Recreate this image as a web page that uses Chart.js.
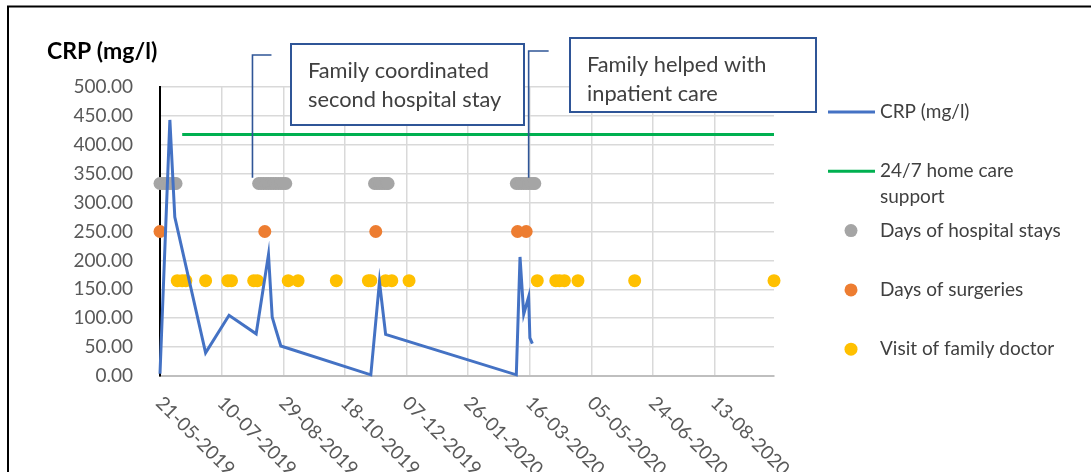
<!DOCTYPE html>
<html>
<head>
<meta charset="utf-8">
<script src="https://cdn.jsdelivr.net/npm/chart.js@4/dist/chart.umd.min.js"></script>
<style>
  html, body { margin: 0; padding: 0; background: #ffffff; }
  #wrap { width: 1091px; height: 472px; position: relative; }
</style>
</head>
<body>
<div id="wrap"><canvas id="chart" width="1091" height="472"></canvas></div>
<script>
// ---- data (dates as DD-MM-YYYY) ----
const baseDate = '21-05-2019';
const axisEndDate = '30-09-2020';
const xTickLabels = ['21-05-2019', '10-07-2019', '29-08-2019', '18-10-2019', '07-12-2019',
                     '26-01-2020', '16-03-2020', '05-05-2020', '24-06-2020', '13-08-2020'];

const crpDates = ['21-05-2019', '29-05-2019', '02-06-2019', '27-06-2019', '16-07-2019',
                  '07-08-2019', '17-08-2019', '20-08-2019', '23-08-2019', '27-08-2019',
                  '08-11-2019', '15-11-2019', '20-11-2019',
                  '05-03-2020', '08-03-2020', '11-03-2020', '15-03-2020', '16-03-2020', '18-03-2020'];
const crpValues = [4, 443, 275, 40, 105,
                   73, 210, 102, 80, 52,
                   2, 163, 72,
                   2, 206, 107, 137, 66, 56];

const homeCareDates = ['08-06-2019', '30-09-2020'];
const homeCareValues = [418, 418];

const hospitalDates = ['21-05-2019', '23-05-2019', '25-05-2019', '27-05-2019', '29-05-2019', '31-05-2019', '02-06-2019', '03-06-2019',
                       '09-08-2019', '11-08-2019', '13-08-2019', '15-08-2019', '17-08-2019', '19-08-2019',
                       '21-08-2019', '23-08-2019', '25-08-2019', '27-08-2019', '29-08-2019', '31-08-2019',
                       '11-11-2019', '13-11-2019', '15-11-2019', '17-11-2019', '19-11-2019', '21-11-2019', '22-11-2019',
                       '05-03-2020', '07-03-2020', '09-03-2020', '11-03-2020', '13-03-2020', '15-03-2020',
                       '17-03-2020', '19-03-2020', '20-03-2020'];
const hospitalLevel = 333;

const surgeryDates = ['21-05-2019', '14-08-2019', '12-11-2019', '06-03-2020', '13-03-2020'];
const surgeryLevel = 250;

const doctorDates = ['04-06-2019', '08-06-2019', '11-06-2019', '27-06-2019', '15-07-2019', '18-07-2019',
                     '05-08-2019', '08-08-2019', '02-09-2019', '10-09-2019', '11-10-2019',
                     '06-11-2019', '08-11-2019', '20-11-2019', '25-11-2019', '09-12-2019',
                     '22-03-2020', '06-04-2020', '09-04-2020', '13-04-2020', '24-04-2020',
                     '09-06-2020', '30-09-2020'];
const doctorLevel = 165;

const callouts = [
  { lines: ['Family coordinated', 'second hospital stay'], anchorDate: '04-08-2019', anchorValue: 343,
    box: { x: 291, y: 44, w: 233, h: 81 }, elbow: { dx: 19, y: 55 } },
  { lines: ['Family helped with', 'inpatient care'], anchorDate: '15-03-2020', anchorValue: 343,
    box: { x: 570, y: 38, w: 246, h: 74 }, elbow: { dx: 20, y: 51 } }
];

// ---- helpers ----
function dayIndex(s) {
  const [d, m, y] = s.split('-').map(Number);
  const [bd, bm, by] = baseDate.split('-').map(Number);
  return Math.round((Date.UTC(y, m - 1, d) - Date.UTC(by, bm - 1, bd)) / 86400000);
}
const toPoints = (dates, values) => dates.map((d, i) => ({ x: dayIndex(d), y: Array.isArray(values) ? values[i] : values }));

const FONT = 'Lato, "Open Sans", sans-serif';
const TEXT = '#404040';
const TICK = '#595959';
const GRID = '#D9D9D9';

// ---- plugin that draws the page furniture ----
const pagePlugin = {
  id: 'page',
  beforeDraw(chart) {
    const ctx = chart.ctx;
    ctx.save();
    ctx.fillStyle = '#ffffff';
    ctx.fillRect(0, 0, chart.width, chart.height);
    ctx.restore();
  },
  afterDraw(chart) {
    const ctx = chart.ctx;
    const xs = chart.scales.x, ys = chart.scales.y;
    ctx.save();

    // rotated date labels under the axis
    ctx.font = '19px ' + FONT;
    ctx.fillStyle = TICK;
    ctx.textAlign = 'left';
    ctx.textBaseline = 'middle';
    xTickLabels.forEach(lbl => {
      const px = xs.getPixelForValue(dayIndex(lbl));
      ctx.save();
      ctx.translate(px - 1, chart.chartArea.bottom + 24);
      ctx.rotate(Math.PI / 4);
      ctx.fillText(lbl, 0, 0);
      ctx.restore();
    });

    // axis title
    ctx.font = 'bold 23px ' + FONT;
    ctx.fillStyle = '#000000';
    ctx.textAlign = 'left';
    ctx.textBaseline = 'alphabetic';
    ctx.fillText('CRP (mg/l)', 47, 59);

    // callouts
    callouts.forEach(c => {
      const ax = xs.getPixelForValue(dayIndex(c.anchorDate));
      const ay = ys.getPixelForValue(c.anchorValue);
      ctx.strokeStyle = '#2F5597';
      ctx.lineWidth = 1.6;
      ctx.beginPath();
      ctx.moveTo(ax + c.elbow.dx, c.elbow.y);
      ctx.lineTo(ax, c.elbow.y);
      ctx.lineTo(ax, ay);
      ctx.stroke();

      ctx.fillStyle = '#ffffff';
      ctx.fillRect(c.box.x, c.box.y, c.box.w, c.box.h);
      ctx.lineWidth = 2;
      ctx.strokeRect(c.box.x, c.box.y, c.box.w, c.box.h);
      ctx.font = '21.8px ' + FONT;
      ctx.fillStyle = TEXT;
      ctx.textBaseline = 'alphabetic';
      c.lines.forEach((t, i) => ctx.fillText(t, c.box.x + 17, c.box.y + 34 + i * 29));
    });

    // legend
    const lx = 828, tx = 880, maxW = 190;
    let ly = 112;
    ctx.font = '19px ' + FONT;
    ctx.textBaseline = 'middle';
    chart.data.datasets.forEach(ds => {
      if (ds.showLine) {
        ctx.strokeStyle = ds.borderColor;
        ctx.lineWidth = 3;
        ctx.beginPath();
        ctx.moveTo(lx, ly);
        ctx.lineTo(lx + 47, ly);
        ctx.stroke();
      } else {
        ctx.fillStyle = ds.backgroundColor;
        ctx.beginPath();
        ctx.arc(lx + 23, ly, 6.5, 0, Math.PI * 2);
        ctx.fill();
      }
      // wrap label text
      const words = ds.label.split(' ');
      const rows = [];
      let cur = '';
      words.forEach(w => {
        const test = cur ? cur + ' ' + w : w;
        if (ctx.measureText(test).width > maxW && cur) { rows.push(cur); cur = w; } else { cur = test; }
      });
      rows.push(cur);
      ctx.fillStyle = TEXT;
      rows.forEach((r, i) => ctx.fillText(r, tx, ly + i * 26));
      ly += 59.3;
    });

    // outer frame
    ctx.strokeStyle = '#000000';
    ctx.lineWidth = 2;
    ctx.beginPath();
    ctx.moveTo(8, chart.height);
    ctx.lineTo(8, 6.5);
    ctx.lineTo(chart.width, 6.5);
    ctx.stroke();
    ctx.restore();
  }
};

// ---- chart ----
new Chart(document.getElementById('chart'), {
  type: 'scatter',
  data: {
    datasets: [
      { label: 'CRP (mg/l)', data: toPoints(crpDates, crpValues), showLine: true, clip: false,
        borderColor: '#4472C4', backgroundColor: '#4472C4', borderWidth: 3, pointRadius: 0, tension: 0 },
      { label: '24/7 home care support', data: toPoints(homeCareDates, homeCareValues), showLine: true, clip: false,
        borderColor: '#00B050', backgroundColor: '#00B050', borderWidth: 3, pointRadius: 0 },
      { label: 'Days of hospital stays', data: toPoints(hospitalDates, hospitalLevel), showLine: false, clip: false,
        backgroundColor: '#A5A5A5', borderWidth: 0, pointRadius: 6.5 },
      { label: 'Days of surgeries', data: toPoints(surgeryDates, surgeryLevel), showLine: false, clip: false,
        backgroundColor: '#ED7D31', borderWidth: 0, pointRadius: 6.5 },
      { label: 'Visit of family doctor', data: toPoints(doctorDates, doctorLevel), showLine: false, clip: false,
        backgroundColor: '#FFC000', borderWidth: 0, pointRadius: 6.5 }
    ]
  },
  options: {
    responsive: false,
    animation: false,
    devicePixelRatio: 1,
    layout: { padding: { left: 0, right: 317, top: 87, bottom: 0 } },
    plugins: { legend: { display: false }, tooltip: { enabled: false } },
    scales: {
      x: {
        type: 'linear',
        min: 0,
        max: dayIndex(axisEndDate),
        afterFit(scale) { scale.height = 96; },
        // one grid line per dated tick label
        afterBuildTicks(scale) { scale.ticks = xTickLabels.map(l => ({ value: dayIndex(l) })); },
        ticks: { display: false },
        grid: { color: GRID, lineWidth: 1.5, drawTicks: false },
        border: { color: '#BFBFBF', width: 2 }
      },
      y: {
        min: 0,
        max: 500,
        afterFit(scale) { scale.width = 160; },
        ticks: { stepSize: 50, padding: 27, color: TICK, font: { family: FONT, size: 19 },
                 callback: v => v.toFixed(2) },
        grid: { color: GRID, lineWidth: 1.5, drawTicks: false },
        border: { color: '#000000', width: 2 }
      }
    }
  },
  plugins: [pagePlugin]
});
</script>
</body>
</html>
